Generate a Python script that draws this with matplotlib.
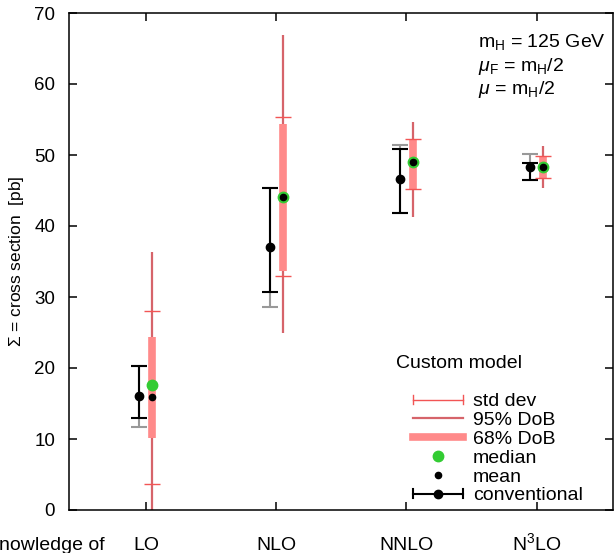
import matplotlib
matplotlib.use("Agg")
import matplotlib.pyplot as plt
from matplotlib.lines import Line2D
from matplotlib.legend_handler import HandlerBase

plt.rcParams['font.family'] = ['Liberation Sans', 'DejaVu Sans']
plt.rcParams['mathtext.fontset'] = 'custom'
plt.rcParams['mathtext.rm'] = 'Liberation Sans'
plt.rcParams['mathtext.it'] = 'Liberation Sans:italic'

# data
orders = ['LO', 'NLO', 'NNLO', 'N$^3$LO']
xpos = [1, 2, 3, 4]

conv_central = [16.1, 37.0, 46.6, 48.3]
conv_low = [13.0, 30.75, 41.9, 46.5]
conv_high = [20.3, 45.4, 50.8, 48.9]
conv_gray_low = [11.7, 28.6, 41.9, 46.5]
conv_gray_high = [20.3, 45.4, 51.4, 50.1]

median = [17.55, 44.1, 49.0, 48.3]
mean = [15.9, 44.1, 49.0, 48.3]
std_low = [3.7, 33.0, 45.2, 46.7]
std_high = [28.0, 55.3, 52.3, 49.9]
dob95_low = [-2.0, 24.9, 41.3, 45.4]
dob95_high = [36.4, 66.9, 54.7, 51.2]
dob68_low = [10.2, 33.6, 45.2, 46.7]
dob68_high = [24.4, 54.4, 52.3, 49.9]

c95 = '#d6646a'
c68 = '#ff8a8a'
cstd = '#f25555'
cmed = '#33cc33'

fig = plt.figure(figsize=(6.15, 5.53), dpi=100)
ax = fig.add_axes([69/615, 43/553, 544/615, 497/553])

off = 0.05
xc = [x - off for x in xpos]
xm = [x + off for x in xpos]

# conventional: gray range behind, black on top
ax.errorbar(xc, conv_central,
            yerr=[[c - l for c, l in zip(conv_central, conv_gray_low)],
                  [h - c for c, h in zip(conv_central, conv_gray_high)]],
            fmt='none', ecolor='#999999', elinewidth=1.5, capsize=5.5, capthick=1.5, zorder=2)
ax.errorbar(xc, conv_central,
            yerr=[[c - l for c, l in zip(conv_central, conv_low)],
                  [h - c for c, h in zip(conv_central, conv_high)]],
            fmt='o', color='black', ms=6, elinewidth=1.5, capsize=5.5, capthick=1.5, zorder=3)

# custom model
ax.vlines(xm, dob95_low, dob95_high, color=c95, lw=1.6, zorder=2)
ax.vlines(xm, dob68_low, dob68_high, color=c68, lw=5.5, zorder=3)
ax.errorbar(xm, median,
            yerr=[[m - l for m, l in zip(median, std_low)],
                  [h - m for m, h in zip(median, std_high)]],
            fmt='none', ecolor=cstd, elinewidth=0, capsize=5.5, capthick=1.0, zorder=4)
ax.plot(xm, median, 'o', color=cmed, ms=7.5, zorder=5, ls='none')
ax.plot(xm, mean, 'o', color='black', ms=4.5, zorder=6, ls='none')

ax.set_xlim(0.41, 4.585)
ax.set_ylim(0, 70)
ax.set_xticks(xpos)
ax.set_xticklabels(orders)
ax.set_yticks(range(0, 71, 10))
ax.tick_params(direction='in', length=6, width=1.1, top=True, right=True)
ax.tick_params(axis='x', pad=29, labelsize=14)
ax.tick_params(axis='y', pad=10, labelsize=13.5)
for lab in ax.get_xticklabels():
    lab.set_va('baseline')
for s in ax.spines.values():
    s.set_linewidth(1.1)
ax.set_ylabel('$\\Sigma$ = cross section  [pb]', fontsize=12.5, labelpad=6)

fig.text(105/615, 3/553, 'Knowledge of', fontsize=14, ha='right', va='baseline')

ax.text(0.752, 0.932, 'm$_\\mathrm{H}$ = 125 GeV', transform=ax.transAxes, fontsize=14)
ax.text(0.752, 0.884, '$\\mu_\\mathrm{F}$ = m$_\\mathrm{H}$/2', transform=ax.transAxes, fontsize=14)
ax.text(0.752, 0.837, '$\\mu$ = m$_\\mathrm{H}$/2', transform=ax.transAxes, fontsize=14)


class HBar(HandlerBase):
    def __init__(self, color, lw, dot=False):
        super().__init__()
        self.color = color
        self.lw = lw
        self.dot = dot

    def create_artists(self, legend, orig_handle, xdescent, ydescent,
                       width, height, fontsize, trans):
        y = height / 2 - ydescent
        x0 = -xdescent
        x1 = x0 + width
        h = 0.35 * height
        arts = [Line2D([x0, x1], [y, y], color=self.color, lw=self.lw),
                Line2D([x0, x0], [y - h, y + h], color=self.color, lw=self.lw),
                Line2D([x1, x1], [y - h, y + h], color=self.color, lw=self.lw)]
        if self.dot:
            arts.append(Line2D([(x0 + x1) / 2], [y], marker='o', color=self.color, ms=6))
        for a in arts:
            a.set_transform(trans)
        return arts


h_std = Line2D([], [], color=cstd)
h_95 = Line2D([], [], color=c95, lw=1.6)
h_68 = Line2D([], [], color=c68, lw=5.5)
h_med = Line2D([], [], marker='o', color=cmed, ms=7.5, ls='none')
h_mean = Line2D([], [], marker='o', color='black', ms=4.5, ls='none')
h_conv = Line2D([], [], color='black')

fig.text(396/615, (553-368)/553, 'Custom model', fontsize=14, va='baseline')
ax.legend([h_std, h_95, h_68, h_med, h_mean, h_conv],
          ['std dev', '95% DoB', '68% DoB', 'median', 'mean', 'conventional'],
          handler_map={h_std: HBar(cstd, 1.0), h_conv: HBar('black', 1.5, dot=True)},
          loc='lower left', bbox_to_anchor=(330/544, -0.016), frameon=False,
          fontsize=14, handlelength=2.6, handletextpad=0.5, labelspacing=0.06,
          borderpad=0.2)

fig.savefig('out.png', dpi=100)
